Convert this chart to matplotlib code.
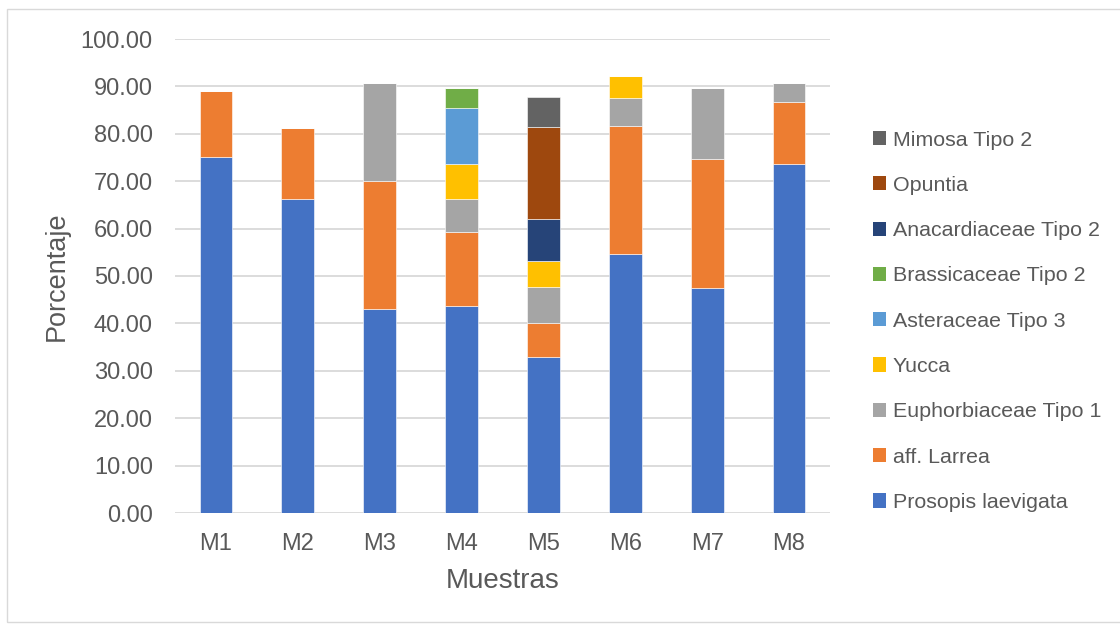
import matplotlib.pyplot as plt
from matplotlib.patches import Rectangle, Patch
import numpy as np

plt.rcParams['font.family'] = ['Liberation Sans', 'DejaVu Sans']

muestras = ['M1', 'M2', 'M3', 'M4', 'M5', 'M6', 'M7', 'M8']
taxa = ['Prosopis laevigata', 'aff. Larrea', 'Euphorbiaceae Tipo 1', 'Yucca',
        'Asteraceae Tipo 3', 'Brassicaceae Tipo 2', 'Anacardiaceae Tipo 2',
        'Opuntia', 'Mimosa Tipo 2']
colores = ['#4472C4', '#ED7D31', '#A5A5A5', '#FFC000', '#5B9BD5', '#70AD47',
           '#264478', '#9E480E', '#636363']

prosopis = [75.2, 66.2, 43.0, 43.7, 33.0, 54.6, 47.4, 73.6]
larrea = [13.8, 15.1, 27.1, 15.5, 7.1, 27.1, 27.3, 13.2]
euphorb = [0, 0, 20.6, 7.0, 7.6, 5.9, 15.0, 4.0]
yucca = [0, 0, 0, 7.4, 5.5, 4.6, 0, 0]
aster = [0, 0, 0, 11.9, 0, 0, 0, 0]
brassi = [0, 0, 0, 4.2, 0, 0, 0, 0]
anacard = [0, 0, 0, 0, 8.8, 0, 0, 0]
opuntia = [0, 0, 0, 0, 19.4, 0, 0, 0]
mimosa = [0, 0, 0, 0, 6.4, 0, 0, 0]
series = [prosopis, larrea, euphorb, yucca, aster, brassi, anacard, opuntia, mimosa]

fig = plt.figure(figsize=(11.2, 6.26), dpi=100)
W, H = 1120, 626
ax = fig.add_axes([175 / W, 1 - 513 / H, (830 - 175) / W, (513 - 39) / H])

# chart border
fig.patches.append(Rectangle((7 / W, 1 - 622 / H), 1.2, (622 - 9) / H,
                             transform=fig.transFigure, fill=False,
                             edgecolor='#D9D9D9', linewidth=1))

x = np.arange(len(muestras))
bottom = np.zeros(len(muestras))
handles = []
for vals, lab, col in zip(series, taxa, colores):
    v = np.array(vals)
    ax.bar(x, v, width=0.4, bottom=bottom, color=col, edgecolor='white',
           linewidth=0.4, zorder=3)
    bottom += v
    handles.append(Patch(facecolor=col, label=lab))

ax.set_xlim(-0.5, len(muestras) - 0.5)
ax.set_ylim(0, 100)
ax.set_yticks(np.arange(0, 101, 10))
ax.set_yticklabels(['%.2f' % t for t in np.arange(0, 101, 10)])
ax.set_xticks(x)
ax.set_xticklabels(muestras)
ax.yaxis.grid(True, color='#D9D9D9', linewidth=1.3, zorder=0)
for s in ax.spines.values():
    s.set_visible(False)
ax.tick_params(axis='both', length=0, labelsize=17, labelcolor='#595959')
ax.tick_params(axis='y', pad=16)
ax.tick_params(axis='x', pad=14.5)
ax.set_ylabel('Porcentaje', fontsize=19.5, color='#595959', labelpad=8)
ax.set_xlabel('Muestras', fontsize=20, color='#595959', labelpad=9)

fig.legend(handles=handles[::-1], loc='upper left',
           bbox_to_anchor=(864 / W, 1 - 122 / H), frameon=False,
           fontsize=15.4, labelcolor='#595959', handlelength=0.65,
           handleheight=0.65, handletextpad=0.3, labelspacing=1.23,
           borderaxespad=0)

fig.savefig('out.png', dpi=100)
